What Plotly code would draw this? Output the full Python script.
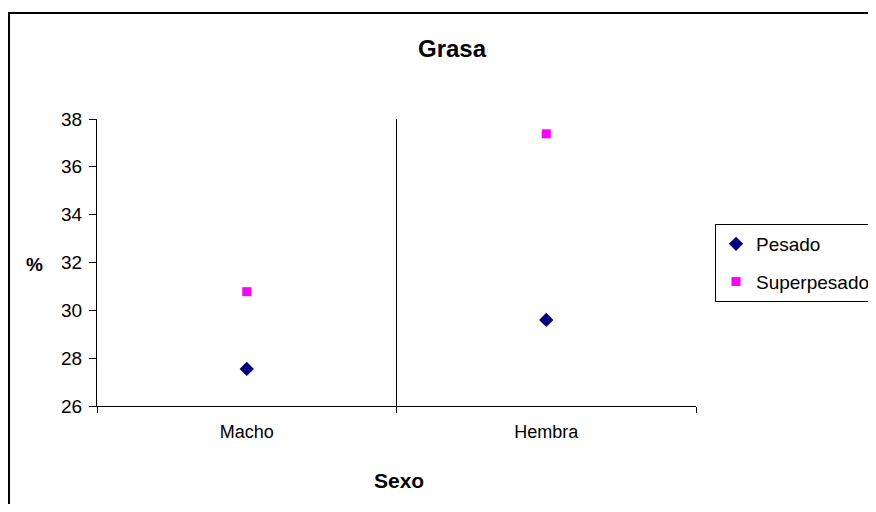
import plotly.graph_objects as go

categories = ["Macho", "Hembra"]
pesado = [27.55, 29.6]
superpesado = [30.78, 37.38]
y_ticks = [26, 28, 30, 32, 34, 36, 38]

# page has an 8px body margin; figure coordinates = screen - 8
OFF = 8
W, H = 876 - 2 * OFF, 512 - 2 * OFF
L, R, T, B = 97 - OFF, 696 - OFF, 119 - OFF, 406 - OFF

def px(x):
    return (x - OFF - L) / (R - L)

def py(y):
    return (B - (y - OFF)) / (B - T)

font = "Liberation Sans, Arial, sans-serif"

fig = go.Figure()
fig.add_trace(go.Scatter(
    x=categories, y=pesado, mode="markers", name="Pesado",
    legendgroup="a",
    marker=dict(symbol="diamond", size=11, color="#000080"),
))
fig.add_trace(go.Scatter(
    x=categories, y=superpesado, mode="markers", name="Superpesado",
    legendgroup="b",
    marker=dict(symbol="square", size=9, color="#FF00FF"),
))

fig.update_layout(
    width=W, height=H,
    margin=dict(l=L, r=W - R, t=T, b=H - B, autoexpand=False),
    paper_bgcolor="white", plot_bgcolor="white",
    font=dict(family=font, size=15, color="black"),
    showlegend=True,
    legend=dict(
        x=px(715), y=py(224), xanchor="left", yanchor="top",
        bordercolor="black", borderwidth=1,
        font=dict(size=19, family=font),
        tracegroupgap=10, traceorder="grouped",
        itemwidth=30,
    ),
    xaxis=dict(
        type="category", range=[-0.5, 1.5],
        tickson="boundaries", ticks="outside", ticklen=6, tickcolor="black",
        showgrid=True, gridcolor="black", gridwidth=1,
        showline=True, linecolor="black", linewidth=1,
        tickfont=dict(size=18), ticklabelstandoff=9,
        zeroline=False,
    ),
    yaxis=dict(
        range=[26, 38], tickvals=y_ticks, ticks="outside", ticklen=7,
        tickcolor="black", showgrid=False,
        showline=True, linecolor="black", linewidth=1,
        tickfont=dict(size=19), ticklabelstandoff=3, zeroline=False,
    ),
    shapes=[
        dict(type="rect", xref="paper", yref="paper",
             x0=px(9), x1=px(900), y0=py(540), y1=py(13),
             line=dict(color="black", width=2), fillcolor="rgba(0,0,0,0)",
             layer="below"),
    ],
    annotations=[
        dict(text="<b>Grasa</b>", x=px(452), y=py(48), xref="paper", yref="paper",
             showarrow=False, font=dict(size=24), xanchor="center", yanchor="middle"),
        dict(text="<b>%</b>", x=px(34), y=py(264), xref="paper", yref="paper",
             showarrow=False, font=dict(size=19), xanchor="center", yanchor="middle"),
        dict(text="<b>Sexo</b>", x=px(399), y=py(480), xref="paper", yref="paper",
             showarrow=False, font=dict(size=21), xanchor="center", yanchor="middle"),
    ],
)

fig.write_html("out.html")
